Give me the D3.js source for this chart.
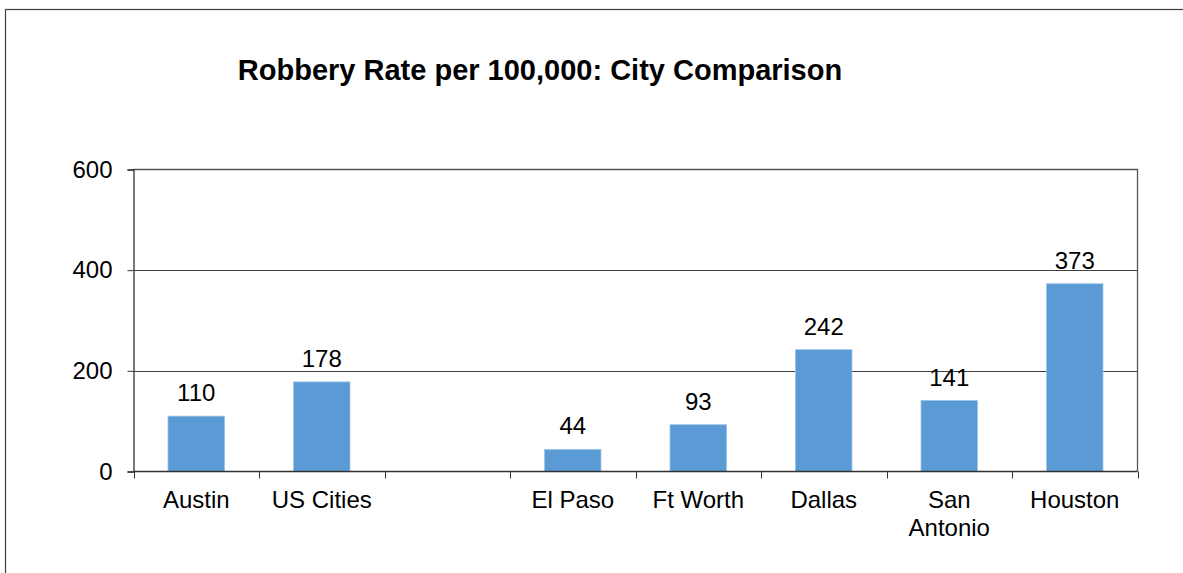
<!DOCTYPE html>
<html>
<head>
<meta charset="utf-8">
<script src="https://cdn.jsdelivr.net/npm/d3@7"></script>
<style>
  html, body { margin: 0; padding: 0; background: #fff; }
  svg { display: block; font-family: "Liberation Sans", Arial, sans-serif; }
</style>
</head>
<body>
<svg id="chart" width="1183" height="573"></svg>
<script>
// chart data
var categories = ['Austin', 'US Cities', '', 'El Paso', 'Ft Worth', 'Dallas', 'San Antonio', 'Houston'];
var categoryLines = [['Austin'], ['US Cities'], [''], ['El Paso'], ['Ft Worth'], ['Dallas'], ['San', 'Antonio'], ['Houston']];
var robberyRates = [110, 178, null, 44, 93, 242, 141, 373];
var yTicks = [0, 200, 400, 600];
var title = 'Robbery Rate per 100,000: City Comparison';

var svg = d3.select('#chart');

var plot = { left: 133.5, top: 169.5, right: 1137.5, bottom: 471.5 };

// outer frame (runs off right and bottom edges)
svg.append('rect')
    .attr('x', 5.5).attr('y', 9.5)
    .attr('width', 1200).attr('height', 600)
    .attr('fill', 'none')
    .attr('stroke', '#404040')
    .attr('stroke-width', 1.2);

svg.append('text')
    .attr('x', 540).attr('y', 80)
    .attr('text-anchor', 'middle')
    .style('font-size', '29px')
    .style('font-weight', 'bold')
    .text(title);

var x = d3.scaleBand()
    .domain(d3.range(categories.length))
    .range([plot.left, plot.right])
    .paddingInner(0.55)
    .paddingOuter(0.275);

var xEdges = d3.scaleLinear()
    .domain([0, categories.length])
    .range([plot.left, plot.right]);

var y = d3.scaleLinear()
    .domain([0, 600])
    .range([plot.bottom, plot.top]);

// gridlines
svg.append('g')
    .selectAll('line')
    .data(yTicks.filter(function(d) { return d > 0 && d < 600; }))
  .enter().append('line')
    .attr('x1', plot.left).attr('x2', plot.right)
    .attr('y1', function(d) { return Math.round(y(d)) + 0.5; })
    .attr('y2', function(d) { return Math.round(y(d)) + 0.5; })
    .attr('stroke', '#404040')
    .attr('stroke-width', 1);

// plot border (top + right)
svg.append('path')
    .attr('d', 'M' + plot.left + ',' + plot.top + 'H' + plot.right + 'V' + plot.bottom)
    .attr('fill', 'none')
    .attr('stroke', '#555')
    .attr('stroke-width', 1.3);

var barData = robberyRates.map(function(v, i) { return { i: i, v: v }; })
    .filter(function(d) { return d.v != null; });

// bars
svg.append('g')
    .selectAll('rect')
    .data(barData)
  .enter().append('rect')
    .attr('x', function(d) { return x(d.i); })
    .attr('y', function(d) { return y(d.v); })
    .attr('width', x.bandwidth())
    .attr('height', function(d) { return plot.bottom - y(d.v); })
    .attr('fill', '#5B9BD5')
    .attr('stroke', '#9DC3E6')
    .attr('stroke-width', 0.8);

// value labels
svg.append('g')
    .selectAll('text')
    .data(barData)
  .enter().append('text')
    .attr('x', function(d) { return x(d.i) + x.bandwidth() / 2; })
    .attr('y', function(d) { return y(d.v) - 15; })
    .attr('text-anchor', 'middle')
    .style('font-size', '24px')
    .text(function(d) { return d.v; });

// y axis
var yAxis = d3.axisLeft(y)
    .tickValues(yTicks)
    .tickSize(6)
    .tickPadding(15);

var yG = svg.append('g')
    .attr('transform', 'translate(' + plot.left + ',0)')
    .call(yAxis);
yG.select('.domain').attr('stroke', '#333').attr('stroke-width', 1.3);
yG.selectAll('.tick line').attr('stroke', '#333');
yG.selectAll('.tick text')
    .style('font-size', '24px')
    .style('font-family', '"Liberation Sans", Arial, sans-serif')
    .attr('fill', '#000');

// x axis line + ticks at category boundaries
svg.append('line')
    .attr('x1', plot.left).attr('x2', plot.right)
    .attr('y1', plot.bottom).attr('y2', plot.bottom)
    .attr('stroke', '#333').attr('stroke-width', 1.3);

svg.append('g')
    .selectAll('line')
    .data(d3.range(categories.length + 1))
  .enter().append('line')
    .attr('x1', function(d) { return Math.round(xEdges(d)) + 0.5; })
    .attr('x2', function(d) { return Math.round(xEdges(d)) + 0.5; })
    .attr('y1', plot.bottom).attr('y2', plot.bottom + 7)
    .attr('stroke', '#333').attr('stroke-width', 1);

// category labels
var xLabels = svg.append('g')
    .selectAll('text')
    .data(categoryLines)
  .enter().append('text')
    .attr('text-anchor', 'middle')
    .style('font-size', '24px')
    .attr('transform', function(d, i) {
        return 'translate(' + (x(i) + x.bandwidth() / 2) + ',' + (plot.bottom + 36.5) + ')';
    });

xLabels.selectAll('tspan')
    .data(function(d) { return d; })
  .enter().append('tspan')
    .attr('x', 0)
    .attr('dy', function(d, j) { return j === 0 ? 0 : 28; })
    .text(function(d) { return d; });
</script>
</body>
</html>
